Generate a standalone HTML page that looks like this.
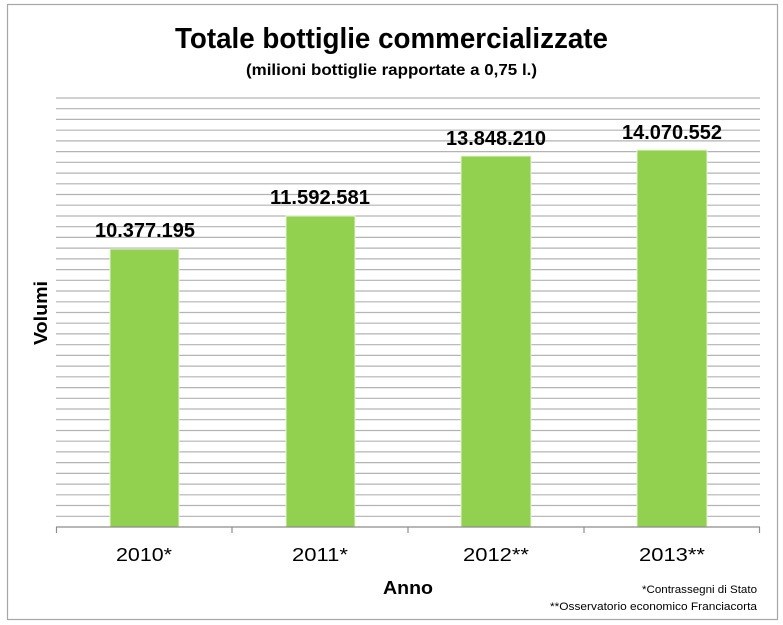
<!DOCTYPE html>
<html><head><meta charset="utf-8"><style>
html,body{margin:0;padding:0;background:#fff;}
svg{display:block;font-family:"Liberation Sans",sans-serif;}
</style></head><body>
<svg width="783" height="625" viewBox="0 0 783 625" xmlns="http://www.w3.org/2000/svg">
<rect x="0" y="0" width="783" height="625" fill="#fff"/>
<rect x="7.5" y="4.5" width="770" height="615" fill="#fff" stroke="#a6a6a6" stroke-width="1.2"/>
<text x="391.5" y="48" text-anchor="middle" font-size="29" font-weight="bold" textLength="433" lengthAdjust="spacingAndGlyphs">Totale bottiglie commerciali­zzate</text>
<text x="391.5" y="75" text-anchor="middle" font-size="16" font-weight="bold" textLength="291" lengthAdjust="spacingAndGlyphs">(milioni bottiglie rapportate a 0,75 l.)</text>
<g stroke="#b0b0b0" stroke-width="1.3">
<script>/* none */</script>
</g>
<g id="grid" stroke="#b3b3b3" stroke-width="1.2"></g>
<g stroke="#b3b3b3" stroke-width="1.2">
<line x1="56" x2="760" y1="98" y2="98"/><line x1="56" x2="760" y1="108.7" y2="108.7"/><line x1="56" x2="760" y1="119.4" y2="119.4"/><line x1="56" x2="760" y1="130.2" y2="130.2"/><line x1="56" x2="760" y1="140.9" y2="140.9"/><line x1="56" x2="760" y1="151.6" y2="151.6"/><line x1="56" x2="760" y1="162.3" y2="162.3"/><line x1="56" x2="760" y1="173.1" y2="173.1"/><line x1="56" x2="760" y1="183.8" y2="183.8"/><line x1="56" x2="760" y1="194.5" y2="194.5"/><line x1="56" x2="760" y1="205.2" y2="205.2"/><line x1="56" x2="760" y1="216" y2="216"/><line x1="56" x2="760" y1="226.7" y2="226.7"/><line x1="56" x2="760" y1="237.4" y2="237.4"/><line x1="56" x2="760" y1="248.1" y2="248.1"/><line x1="56" x2="760" y1="258.9" y2="258.9"/><line x1="56" x2="760" y1="269.6" y2="269.6"/><line x1="56" x2="760" y1="280.3" y2="280.3"/><line x1="56" x2="760" y1="291" y2="291"/><line x1="56" x2="760" y1="301.8" y2="301.8"/><line x1="56" x2="760" y1="312.5" y2="312.5"/><line x1="56" x2="760" y1="323.2" y2="323.2"/><line x1="56" x2="760" y1="333.9" y2="333.9"/><line x1="56" x2="760" y1="344.7" y2="344.7"/><line x1="56" x2="760" y1="355.4" y2="355.4"/><line x1="56" x2="760" y1="366.1" y2="366.1"/><line x1="56" x2="760" y1="376.8" y2="376.8"/><line x1="56" x2="760" y1="387.6" y2="387.6"/><line x1="56" x2="760" y1="398.3" y2="398.3"/><line x1="56" x2="760" y1="409" y2="409"/><line x1="56" x2="760" y1="419.7" y2="419.7"/><line x1="56" x2="760" y1="430.5" y2="430.5"/><line x1="56" x2="760" y1="441.2" y2="441.2"/><line x1="56" x2="760" y1="451.9" y2="451.9"/><line x1="56" x2="760" y1="462.6" y2="462.6"/><line x1="56" x2="760" y1="473.4" y2="473.4"/><line x1="56" x2="760" y1="484.1" y2="484.1"/><line x1="56" x2="760" y1="494.8" y2="494.8"/><line x1="56" x2="760" y1="505.5" y2="505.5"/><line x1="56" x2="760" y1="516.3" y2="516.3"/>
</g>
<g fill="#92d050" stroke="#e8f5d8" stroke-width="1">
<rect x="110" y="249" width="69" height="278"/>
<rect x="286" y="216" width="69" height="311"/>
<rect x="461" y="156" width="70" height="371"/>
<rect x="637" y="150" width="70" height="377"/>
</g>
<g stroke="#8c8c8c" stroke-width="1.2">
<line x1="56" x2="760" y1="527" y2="527"/>
<line x1="56.5" x2="56.5" y1="527" y2="533"/><line x1="232" x2="232" y1="527" y2="533"/><line x1="408" x2="408" y1="527" y2="533"/><line x1="584" x2="584" y1="527" y2="533"/><line x1="759.5" x2="759.5" y1="527" y2="533"/>
</g>
<g font-size="20" font-weight="bold" text-anchor="middle">
<text x="145" y="237" textLength="100" lengthAdjust="spacingAndGlyphs">10.377.195</text>
<text x="320" y="204" textLength="100" lengthAdjust="spacingAndGlyphs">11.592.581</text>
<text x="496" y="145" textLength="100" lengthAdjust="spacingAndGlyphs">13.848.210</text>
<text x="672" y="139" textLength="100" lengthAdjust="spacingAndGlyphs">14.070.552</text>
</g>
<g font-size="18" text-anchor="middle">
<text x="144" y="561" textLength="56" lengthAdjust="spacingAndGlyphs">2010*</text>
<text x="320" y="561" textLength="56" lengthAdjust="spacingAndGlyphs">2011*</text>
<text x="496" y="561" textLength="66" lengthAdjust="spacingAndGlyphs">2012**</text>
<text x="672" y="561" textLength="66" lengthAdjust="spacingAndGlyphs">2013**</text>
</g>
<text x="408" y="594" text-anchor="middle" font-size="18" font-weight="bold" textLength="50" lengthAdjust="spacingAndGlyphs">Anno</text>
<text transform="translate(47,313) rotate(-90)" text-anchor="middle" font-size="18" font-weight="bold" textLength="64" lengthAdjust="spacingAndGlyphs">Volumi</text>
<g font-size="11" text-anchor="end">
<text x="757" y="593" textLength="115" lengthAdjust="spacingAndGlyphs">*Contrassegni di Stato</text>
<text x="757" y="610" textLength="207" lengthAdjust="spacingAndGlyphs">**Osservatorio economico Franciacorta</text>
</g>
</svg>
</body></html>
